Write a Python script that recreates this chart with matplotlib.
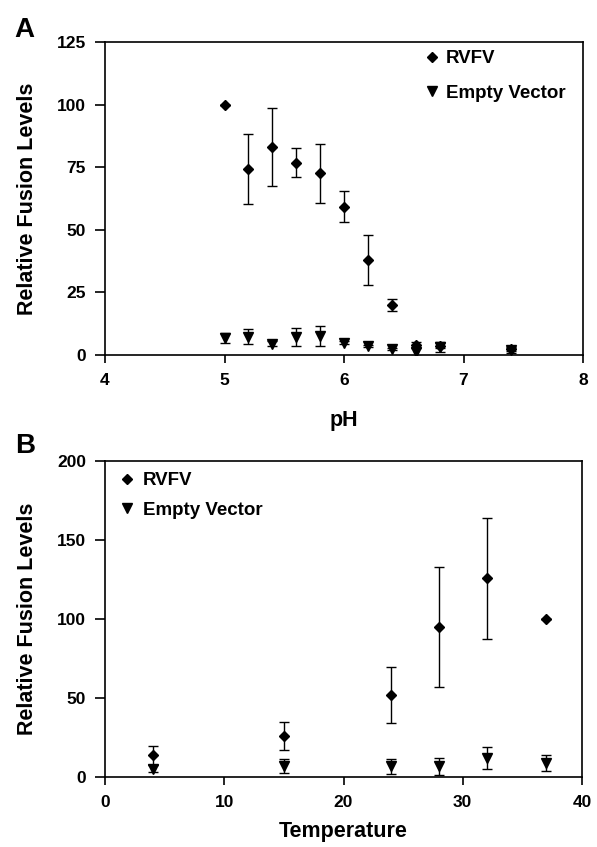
import matplotlib
matplotlib.use("Agg")
import matplotlib.pyplot as plt
from matplotlib.lines import Line2D

plt.rcParams['font.family'] = ['Liberation Sans', 'DejaVu Sans']
plt.rcParams['font.weight'] = 'bold'

# Panel A data (pH)
ph = [5.0, 5.2, 5.4, 5.6, 5.8, 6.0, 6.2, 6.4, 6.6, 6.8, 7.4]
rvfv_ph = [100, 74.2, 83.1, 76.8, 72.5, 59.3, 38.1, 20.0, 3.8, 3.6, 2.3]
rvfv_ph_err = [0, 14.0, 15.6, 5.7, 11.8, 6.0, 10.0, 2.5, 1.2, 1.0, 0.8]
ev_ph = [6.9, 7.3, 4.5, 7.2, 7.6, 4.9, 3.6, 2.3, 1.2, 3.2, 1.9]
ev_ph_err = [2.0, 3.0, 1.0, 3.5, 4.0, 0.5, 0.5, 0.5, 1.5, 2.0, 1.0]

# Panel B data (Temperature)
temp = [4, 15, 24, 28, 32, 37]
rvfv_t = [13.7, 26.0, 51.9, 94.9, 125.7, 100]
rvfv_t_err = [6.0, 9.0, 18.0, 38.0, 38.5, 0]
ev_t = [5.3, 7.2, 6.8, 6.8, 12.2, 8.9]
ev_t_err = [2.0, 4.5, 4.8, 5.5, 7.0, 4.8]

series_labels = ['RVFV', 'Empty Vector']

fig = plt.figure(figsize=(5.97, 8.47), dpi=100)
W, H = 597, 847

def make_ax(l, r, t, b):
    return fig.add_axes([l / W, 1 - b / H, (r - l) / W, (b - t) / H])

axA = make_ax(105, 583, 42, 355)
axB = make_ax(105, 582, 461, 777)

mk = dict(color='black', ecolor='black', elinewidth=1.0, capsize=3.8, capthick=1.0,
          linestyle='none')
D_SIZE = 5.6
V_SIZE = 7.5

def style(ax):
    for s in ax.spines.values():
        s.set_linewidth(1.2)
    ax.tick_params(axis='y', direction='out', length=7.2, width=1.2,
                   labelsize=12.5, pad=6.5)
    ax.tick_params(axis='x', direction='out', length=5.8, width=1.2,
                   labelsize=12.5, pad=7.5)
    for lab in ax.get_xticklabels() + ax.get_yticklabels():
        lab.set_fontweight('bold')

def handles():
    return [Line2D([], [], color='black', marker='D', markersize=D_SIZE, linestyle='none'),
            Line2D([], [], color='black', marker='v', markersize=V_SIZE, linestyle='none')]

# Panel A
axA.errorbar(ph, rvfv_ph, yerr=rvfv_ph_err, marker='D', markersize=D_SIZE, **mk)
axA.errorbar(ph, ev_ph, yerr=ev_ph_err, marker='v', markersize=V_SIZE, **mk)
axA.set_xlim(4, 8)
axA.set_ylim(0, 125)
axA.set_xticks([4, 5, 6, 7, 8])
axA.set_yticks([0, 25, 50, 75, 100, 125])
axA.set_xlabel('pH', fontsize=15.5, fontweight='bold')
axA.set_ylabel('Relative Fusion Levels', fontsize=15.5, fontweight='bold')
axA.xaxis.set_label_coords(0.5, -0.175)
axA.yaxis.set_label_coords(-0.14, 0.5)
style(axA)
legA = axA.legend(handles(), series_labels, loc='upper left',
                  bbox_to_anchor=(424 / W, 1 - 50 / H), bbox_transform=fig.transFigure,
                  frameon=False, fontsize=13.5, handletextpad=0.35, labelspacing=0.93,
                  handlelength=0.8, borderpad=0, borderaxespad=0)
for t in legA.get_texts():
    t.set_fontweight('bold')

# Panel B
axB.errorbar(temp, rvfv_t, yerr=rvfv_t_err, marker='D', markersize=D_SIZE, **mk)
axB.errorbar(temp, ev_t, yerr=ev_t_err, marker='v', markersize=V_SIZE, **mk)
axB.set_xlim(0, 40)
axB.set_ylim(0, 200)
axB.set_xticks([0, 10, 20, 30, 40])
axB.set_yticks([0, 50, 100, 150, 200])
axB.set_xlabel('Temperature', fontsize=15.5, fontweight='bold')
axB.set_ylabel('Relative Fusion Levels', fontsize=15.5, fontweight='bold')
axB.xaxis.set_label_coords(0.5, -0.139)
axB.yaxis.set_label_coords(-0.14, 0.5)
style(axB)
legB = axB.legend(handles(), series_labels, loc='upper left',
                  bbox_to_anchor=(119.5 / W, 1 - 472 / H), bbox_transform=fig.transFigure,
                  frameon=False, fontsize=13.5, handletextpad=0.45, labelspacing=0.66,
                  handlelength=0.8, borderpad=0, borderaxespad=0)
for t in legB.get_texts():
    t.set_fontweight('bold')

fig.text(24.7 / W, 1 - 37 / H, 'A', fontsize=20, fontweight='bold', va='baseline', ha='center')
fig.text(25.5 / W, 1 - 453 / H, 'B', fontsize=20, fontweight='bold', va='baseline', ha='center')

fig.savefig('out.png', dpi=100)
